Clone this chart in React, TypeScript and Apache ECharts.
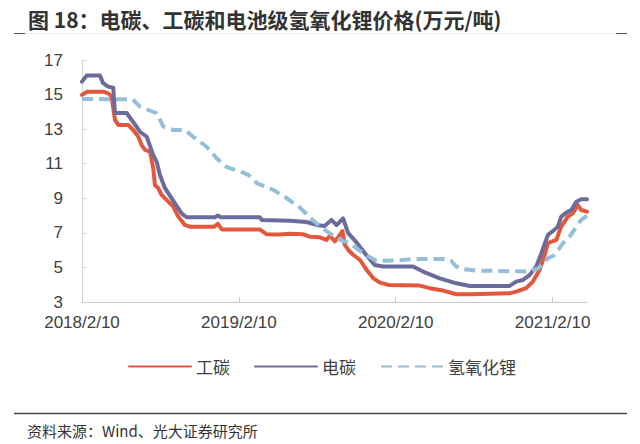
import React, { useEffect, useRef } from "react";
import * as echarts from "echarts";

// x values are months elapsed since 2018/2/10
const xTickValues = [0, 12, 24, 36];
const xTickLabels = ["2018/2/10", "2019/2/10", "2020/2/10", "2021/2/10"];
const yTickValues = [3, 5, 7, 9, 11, 13, 15, 17];

const seriesNames = ["工碳", "电碳", "氢氧化锂"];

const gongTanX = [0, 0.4, 1.63, 2.01, 2.27, 2.52, 2.78, 3.54, 3.92, 4.3, 4.56, 4.82, 5.2, 5.45, 5.58, 5.83, 6.09, 6.6, 6.98, 7.36, 7.87, 8.25, 10.1, 10.39, 10.7, 13.6, 14.11, 15.13, 15.9, 16.89, 17.43, 18.19, 18.7, 18.96, 19.34, 19.72, 19.92, 20.1, 20.37, 20.76, 21.27, 21.78, 22.29, 22.8, 23.44, 25.83, 26.6, 27.62, 28.64, 29.66, 32.71, 33.22, 33.98, 34.49, 35.0, 35.39, 35.64, 36.28, 36.66, 37.17, 37.55, 37.93, 38.19, 38.63];
const gongTanY = [14.98, 15.17, 15.17, 15.07, 14.88, 13.53, 13.24, 13.24, 12.95, 12.57, 12.08, 11.8, 11.7, 10.74, 9.77, 9.58, 9.2, 8.81, 8.52, 7.94, 7.46, 7.36, 7.36, 7.52, 7.2, 7.2, 6.92, 6.9, 6.95, 6.92, 6.78, 6.74, 6.59, 6.84, 6.5, 6.88, 7.1, 6.3, 6.01, 5.72, 5.43, 4.85, 4.37, 4.12, 3.99, 3.95, 3.8, 3.66, 3.45, 3.45, 3.5, 3.6, 3.8, 4.18, 4.85, 5.72, 6.4, 6.59, 7.36, 7.94, 8.13, 8.61, 8.32, 8.23];

const dianTanX = [0, 0.36, 1.38, 1.6, 1.99, 2.39, 2.52, 3.42, 3.9, 4.43, 4.95, 5.45, 5.71, 5.96, 6.34, 6.86, 7.11, 7.62, 8.0, 10.17, 10.39, 10.62, 13.6, 13.76, 15.9, 17.17, 17.94, 18.57, 19.08, 19.47, 19.97, 20.35, 21.0, 21.76, 22.39, 23.03, 25.32, 26.09, 27.36, 28.64, 29.66, 32.71, 33.22, 33.71, 34.24, 34.75, 35.14, 35.64, 36.02, 36.4, 36.66, 37.05, 37.43, 37.81, 38.19, 38.63];
const dianTanY = [15.75, 16.1, 16.1, 15.67, 15.46, 15.4, 13.93, 13.93, 13.43, 12.85, 12.56, 11.5, 11.12, 10.35, 9.6, 9.0, 8.71, 8.13, 7.9, 7.9, 8.0, 7.9, 7.9, 7.75, 7.7, 7.63, 7.46, 7.4, 7.75, 7.45, 7.84, 7.0, 6.45, 5.7, 5.14, 5.05, 5.05, 4.76, 4.37, 4.08, 3.93, 3.93, 4.18, 4.27, 4.56, 5.05, 5.82, 6.88, 7.1, 7.36, 7.94, 8.17, 8.32, 8.8, 8.94, 8.94];

const liOHX = [0, 3.88, 4.43, 5.71, 6.22, 6.98, 7.87, 8.51, 9.53, 10.32, 11.08, 12.1, 12.74, 13.38, 14.65, 15.67, 16.7, 17.45, 18.21, 18.97, 19.74, 20.5, 21.49, 22.52, 24.05, 25.32, 27.62, 28.26, 28.64, 29.15, 30.17, 33.98, 34.75, 35.0, 35.64, 36.15, 36.79, 37.3, 37.81, 38.19, 38.63];
const liOHY = [14.75, 14.72, 14.3, 13.92, 13.14, 12.95, 12.95, 12.56, 11.98, 11.3, 10.8, 10.55, 10.35, 9.87, 9.48, 9.0, 8.45, 7.88, 7.36, 6.97, 6.59, 6.4, 5.82, 5.39, 5.4, 5.49, 5.49, 5.37, 5.05, 4.9, 4.82, 4.76, 4.9, 5.0, 5.53, 5.72, 6.4, 6.78, 7.36, 7.75, 7.98];

const zip = (xs: number[], ys: number[]) => xs.map((x, i) => [x, ys[i]]);

const titleText = "图 18：电碳、工碳和电池级氢氧化锂价格(万元/吨)";
const sourceText = "资料来源：Wind、光大证券研究所";

const RED = "#E2583E";
const PURPLE = "#6C6C9C";
const BLUE = "#93BFD8";

const CJK = '"Noto Sans CJK SC", "Noto Sans", sans-serif';
const LATIN = '"Liberation Sans", Arial, sans-serif';

export default function App() {
  const ref = useRef<HTMLDivElement>(null);
  useEffect(() => {
    if (!ref.current) return;
    const chart = echarts.init(ref.current, undefined, { renderer: "svg" });
    chart.setOption({
      animation: false,
      backgroundColor: "#ffffff",
      grid: { left: 82, right: 53, top: 60, bottom: 142, containLabel: false },
      xAxis: {
        type: "value",
        min: 0,
        max: 38.63,
        splitLine: { show: false },
        axisLine: { show: true, lineStyle: { color: "#c8c8c8", width: 1 } },
        axisTick: { show: true, inside: true, length: 5, customValues: xTickValues, lineStyle: { color: "#c8c8c8" } },
        axisLabel: {
          customValues: xTickValues,
          formatter: (v: number) => xTickLabels[xTickValues.indexOf(Math.round(v))] ?? "",
          color: "#404040",
          fontSize: 17,
          fontFamily: LATIN,
          margin: 12,
        },
      },
      yAxis: {
        type: "value",
        min: 3,
        max: 17,
        splitLine: { show: false },
        axisLine: { show: true, lineStyle: { color: "#d6d6d6", width: 1 } },
        axisTick: { show: true, inside: true, length: 5, customValues: yTickValues, lineStyle: { color: "#d6d6d6" } },
        axisLabel: {
          customValues: yTickValues,
          color: "#404040",
          fontSize: 17,
          fontFamily: LATIN,
          margin: 19,
        },
      },
      legend: {
        data: seriesNames,
        left: 128,
        top: 358,
        padding: 0,
        itemWidth: 62,
        itemHeight: 14,
        itemGap: 24,
        itemStyle: { opacity: 0 },
        textStyle: { fontSize: 17, color: "#404040", fontFamily: CJK },
      },
      series: [
        {
          name: seriesNames[0],
          type: "line",
          data: zip(gongTanX, gongTanY),
          showSymbol: false,
          symbol: "none",
          lineStyle: { color: RED, width: 4, cap: "round", join: "round" },
          itemStyle: { color: RED },
        },
        {
          name: seriesNames[1],
          type: "line",
          data: zip(dianTanX, dianTanY),
          showSymbol: false,
          symbol: "none",
          lineStyle: { color: PURPLE, width: 4, cap: "round", join: "round" },
          itemStyle: { color: PURPLE },
        },
        {
          name: seriesNames[2],
          type: "line",
          data: zip(liOHX, liOHY),
          showSymbol: false,
          symbol: "none",
          lineStyle: { color: BLUE, width: 4, type: [11, 6] },
          itemStyle: { color: BLUE },
        },
      ],
      graphic: [
        {
          type: "text",
          left: 28,
          top: 8,
          style: { text: titleText, fontSize: 21, fontWeight: "bold", fill: "#333333", fontFamily: CJK },
        },
        { type: "line", shape: { x1: 14, y1: 33.5, x2: 627, y2: 33.5 }, style: { stroke: "#ececec", lineWidth: 1 } },
        { type: "line", shape: { x1: 14, y1: 33.5, x2: 25, y2: 33.5 }, style: { stroke: "#555555", lineWidth: 1 } },
        { type: "line", shape: { x1: 616, y1: 33.5, x2: 627, y2: 33.5 }, style: { stroke: "#555555", lineWidth: 1 } },
        { type: "line", shape: { x1: 14, y1: 413.5, x2: 627, y2: 413.5 }, style: { stroke: "#444444", lineWidth: 1.3 } },
        {
          type: "text",
          left: 27,
          top: 423,
          style: { text: sourceText, fontSize: 15, fill: "#333333", fontFamily: CJK },
        },
      ],
    });
    return () => chart.dispose();
  }, []);
  return <div ref={ref} style={{ position: "fixed", left: 0, top: 0, width: 640, height: 444 }} />;
}
